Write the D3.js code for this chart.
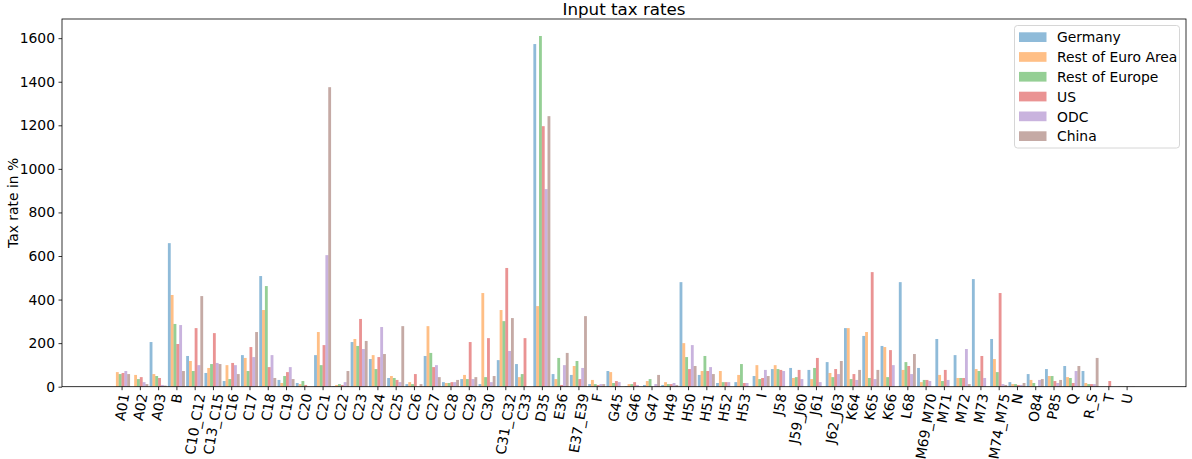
<!DOCTYPE html>
<html>
<head>
<meta charset="utf-8">
<script src="https://cdn.jsdelivr.net/npm/d3@7"></script>
<style>
  body { margin: 0; background: #fff; }
  text { font-family: "DejaVu Sans", sans-serif; }
</style>
</head>
<body>
<svg id="chart" width="1192" height="459"></svg>
<script>
const categories = ["A01","A02","A03","B","C10_C12","C13_C15","C16","C17","C18","C19","C20","C21","C22","C23","C24","C25","C26","C27","C28","C29","C30","C31_C32","C33","D35","E36","E37_E39","F","G45","G46","G47","H49","H50","H51","H52","H53","I","J58","J59_J60","J61","J62_J63","K64","K65","K66","L68","M69_M70","M71","M72","M73","M74_M75","N","O84","P85","Q","R_S","T","U"];
const seriesNames = ["Germany","Rest of Euro Area","Rest of Europe","US","ODC","China"];
const germany = [0,0,205,659,141,63,26,145,508,31,17,145,3,205,127,40,12,141,21,35,12,122,104,1573,58,54,12,72,2,8,8,480,54,17,21,49,81,86,77,113,269,233,187,480,86,219,145,494,219,21,58,81,95,72,0,1];
const restEuroArea = [67,54,58,421,118,86,99,132,352,17,12,251,8,219,145,49,21,278,17,54,430,352,44,370,35,95,31,67,12,26,21,200,72,72,54,99,99,40,35,63,269,251,182,77,21,54,40,81,127,12,31,49,44,17,0,1];
const restEurope = [58,35,49,288,72,104,35,72,462,49,26,99,12,187,81,40,12,155,17,35,44,301,58,1610,132,118,12,17,12,35,12,136,141,21,104,35,81,44,86,44,35,40,44,113,31,26,40,72,67,12,17,49,40,12,0,1];
const us = [63,44,40,196,269,246,109,182,90,67,8,191,8,311,136,31,58,90,21,205,223,545,223,1196,8,35,8,26,21,0,12,81,72,21,17,40,77,77,132,81,58,526,168,95,31,77,40,141,430,8,0,26,17,12,26,1];
const odc = [72,21,8,283,99,109,99,136,145,90,0,604,21,173,274,21,0,99,21,35,21,164,0,907,99,86,12,21,8,12,17,191,90,21,17,77,72,35,21,58,31,35,99,58,26,31,173,40,12,8,31,17,72,12,0,1];
const china = [58,12,5,72,416,104,58,251,40,35,0,1375,72,210,150,278,12,44,31,44,49,315,0,1242,155,324,12,0,0,54,8,95,58,0,0,49,0,0,0,118,77,77,0,150,0,0,12,0,8,17,35,31,95,132,0,1];
const yTicks = [0,200,400,600,800,1000,1200,1400,1600];

const seriesValues = [germany, restEuroArea, restEurope, us, odc, china];
const colors = ["#1f77b4","#ff7f0e","#2ca02c","#d62728","#9467bd","#8c564b"];

const svg = d3.select("#chart");
const L = 62, R = 1186, T = 19, B = 386.7;

const x = d3.scaleLinear().domain([-3.26, categories.length - 1 + 3.25]).range([L, R]);
const y = d3.scaleLinear().domain([0, 1688]).range([B, T]);
const bw = 0.155;

// bars
seriesValues.forEach((vals, k) => {
  svg.append("g").selectAll("rect")
    .data(vals.map((v, i) => ({v, i})).filter(d => d.v > 0))
    .join("rect")
    .attr("x", d => x(d.i + (k - 3) * bw))
    .attr("width", x(bw) - x(0))
    .attr("y", d => y(d.v))
    .attr("height", d => y(0) - y(d.v))
    .attr("fill", colors[k])
    .attr("fill-opacity", 0.5);
});

// y axis
const yAxis = d3.axisLeft(y).tickValues(yTicks).tickSize(3.5).tickPadding(3.5).tickFormat(d3.format("d"));
const gy = svg.append("g").attr("transform", `translate(${L},0)`).call(yAxis);
gy.select(".domain").remove();
gy.selectAll("text").attr("font-size", 13.9).attr("fill", "#000").attr("font-family", "DejaVu Sans");
gy.selectAll("line").attr("stroke", "#000").attr("stroke-width", 0.8);

// x axis
const xAxis = d3.axisBottom(x).tickValues(d3.range(categories.length)).tickSize(3.5).tickFormat(i => categories[i]);
const gx = svg.append("g").attr("transform", `translate(0,${B})`).call(xAxis);
gx.select(".domain").remove();
gx.selectAll("line").attr("stroke", "#000").attr("stroke-width", 0.8);
const ang = 80;
gx.selectAll("text")
  .attr("font-size", 13.9).attr("fill", "#000").attr("font-family", "DejaVu Sans")
  .attr("text-anchor", "end")
  .attr("dy", "0.35em")
  .each(function(i) {
    const w = this.getComputedTextLength();
    const dx = 0.5 * w * Math.cos(ang * Math.PI / 180);
    d3.select(this).attr("y", 0).attr("x", 0)
      .attr("transform", `translate(${dx},${7}) rotate(${-ang})`);
  });

// frame
svg.append("rect").attr("x", L).attr("y", T).attr("width", R - L).attr("height", B - T)
  .attr("fill", "none").attr("stroke", "#000").attr("stroke-width", 0.8);

// title
svg.append("text").attr("x", (L + R) / 2).attr("y", 15).attr("text-anchor", "middle")
  .attr("font-size", 16.7).attr("fill", "#000").text("Input tax rates");

// y label
svg.append("text").attr("transform", `translate(18,${(T + B) / 2}) rotate(-90)`)
  .attr("text-anchor", "middle").attr("font-size", 13.9).attr("fill", "#000").text("Tax rate in %");

// legend
const lg = svg.append("g");
lg.append("rect").attr("x", 1014.5).attr("y", 25.5).attr("width", 165).attr("height", 122.5)
  .attr("rx", 3).attr("fill", "#fff").attr("fill-opacity", 0.8).attr("stroke", "#ccc").attr("stroke-width", 0.8);
seriesNames.forEach((n, k) => {
  const cy = 37.3 + k * 19.8;
  lg.append("rect").attr("x", 1019).attr("y", cy - 5).attr("width", 27.5).attr("height", 9.7)
    .attr("fill", colors[k]).attr("fill-opacity", 0.5);
  lg.append("text").attr("x", 1057).attr("y", cy + 5).attr("font-size", 13.9).attr("fill", "#000").text(n);
});
</script>
</body>
</html>
